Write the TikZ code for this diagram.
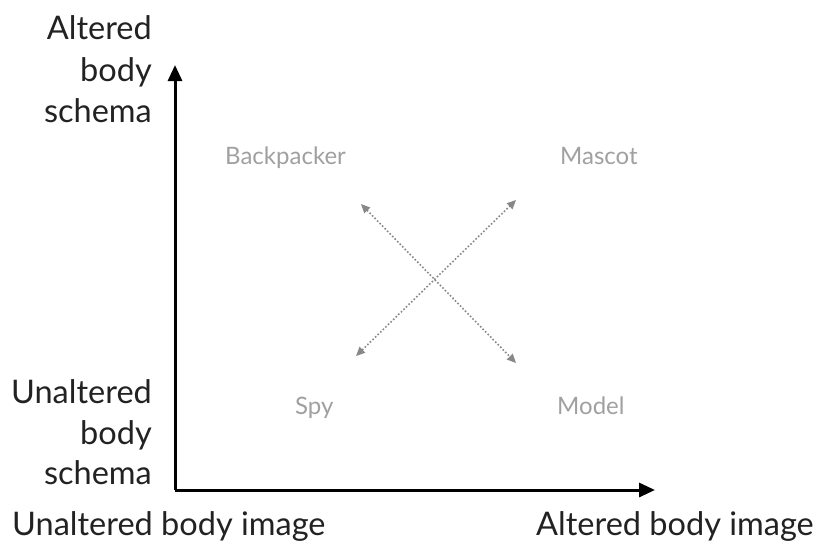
\documentclass[tikz,border=0pt]{standalone}
\usepackage{fontspec}
\setmainfont{Lato}
\usetikzlibrary{arrows.meta}
\definecolor{axistext}{HTML}{222222}
\definecolor{quadtext}{HTML}{A0A0A0}
\definecolor{dotgray}{HTML}{888888}
\tikzset{
  axislabel/.style={font=\fontsize{32.5}{40}\selectfont, text=axistext, inner sep=0pt},
  quadlabel/.style={font=\fontsize{24}{28}\selectfont, text=quadtext, inner sep=0pt},
  axisline/.style={line width=3pt, -{Triangle[length=16pt,width=14pt]}},
  dotarrow/.style={dotgray, line width=1.6pt, dotted, {Triangle[length=9pt,width=8pt]}-{Triangle[length=9pt,width=8pt]}}
}
\begin{document}
\begin{tikzpicture}[x=1pt,y=-1pt]
\useasboundingbox (0,0) rectangle (821,554);
\coordinate (o) at (175,490);
\coordinate (ytop) at (175,65);
\coordinate (xend) at (655,490);
\draw[axisline] (o) -- (ytop);
\draw[axisline] (o) -- (xend);
\node[axislabel, anchor=base east] (ys1) at (152,39) {Altered};
\node[axislabel, anchor=base east] (ys2) at (152,81) {body};
\node[axislabel, anchor=base east] (ys3) at (152,122) {schema};
\node[axislabel, anchor=base east] (yu1) at (152,403) {Unaltered};
\node[axislabel, anchor=base east] (yu2) at (152,444) {body};
\node[axislabel, anchor=base east] (yu3) at (152,484) {schema};
\node[axislabel, anchor=base west] (xu) at (12,535) {Unaltered body image};
\node[axislabel, anchor=base east] (xa) at (814,535) {Altered body image};
\node[quadlabel, anchor=base west] (bp) at (225,164) {Backpacker};
\node[quadlabel, anchor=base west] (ma) at (560,164) {Mascot};
\node[quadlabel, anchor=base west] (sp) at (295,414) {Spy};
\node[quadlabel, anchor=base west] (mo) at (557,414) {Model};
\coordinate (a1) at (361,204);
\coordinate (a2) at (516,363);
\coordinate (b1) at (356,356);
\coordinate (b2) at (516,200);
\draw[dotarrow] (a1) -- (a2);
\draw[dotarrow] (b1) -- (b2);
\end{tikzpicture}
\end{document}
